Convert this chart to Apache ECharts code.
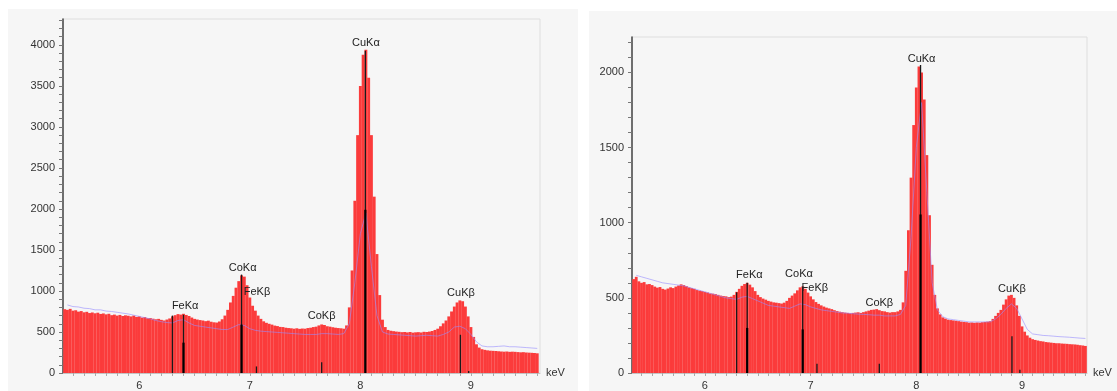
<!DOCTYPE html>
<html><head><meta charset="utf-8">
<script src="https://cdn.jsdelivr.net/npm/echarts@6/dist/echarts.min.js"></script>
<style>html,body{margin:0;padding:0;background:#fff}#c{width:1117px;height:391px}</style>
</head><body><div id="c"></div>
<script>
// ---- DATA ----
// Spectrum channels: energies from 5.325 keV, every 0.025 keV
const channelStart = 5.325, channelStep = 0.025;
const leftCounts = [
 778,770,782,760, 765,748,755,740, 746,731,738,728, 735,720,726,715, 722,705,712,700,
 708,695,703,698, 690,700,684,690, 676,682,668,670, 662,655,660,648, 640,652,665,690,
 705,718,712,722, 708,695,676,660, 652,645,640,632, 638,625,618,615, 628,655,700,770,
 860,940,1040,1120, 1190,1175,1070,920, 820,760,700,660, 630,612,600,590, 578,572,562,560,
 552,548,545,540, 545,538,542,540, 548,552,560,565, 580,592,585,570, 565,558,552,548,
 545,540,580,800, 1250,2100,2900,3500, 3880,3940,3600,2900, 2150,1450,950,650, 560,525,515,510,
 505,502,498,500, 495,500,492,496, 498,494,502,500, 505,512,525,540, 570,605,640,690,
 750,810,860,885, 875,810,690,560, 440,350,310,290, 282,276,272,270, 268,265,262,260,
 262,258,260,258, 255,252,254,250, 248,246,244,240
];
const rightCounts = [
 625,640,610,600, 605,590,592,585, 575,568,572,560, 555,562,570,565, 575,582,590,585,
 578,570,565,560, 552,548,545,540, 536,530,528,525, 520,515,512,510, 505,508,520,540,
 560,580,592,600, 588,570,545,520, 505,495,488,480, 475,470,468,465, 462,468,480,500,
 515,530,550,570, 576,560,535,510, 490,472,460,450, 442,435,430,425, 418,412,408,405,
 402,400,398,400, 402,404,400,405, 410,415,420,422, 425,418,412,410, 405,402,405,405,
 410,420,470,680, 950,1300,1650,1900, 2040,2000,1820,1450, 1050,720,520,430, 390,370,362,355,
 352,350,348,345, 342,340,338,335, 336,334,336,335, 338,340,342,345, 360,380,400,420,
 455,490,515,520, 500,450,380,310, 275,250,235,225, 220,216,212,210, 206,204,202,200,
 198,198,196,195, 194,192,191,190, 188,185,183,180
];
// Overlay (reference) spectrum: energies from 5.35 keV every 0.05 keV
const overlayStart = 5.35, overlayStep = 0.05;
const leftOverlay = [
 830,810, 805,790, 785,770, 770,755, 750,740, 730,720, 705,690, 675,660, 640,625, 615,610,
 640,650, 610,580, 570,560, 550,540, 530,530, 560,590, 580,540, 520,510, 505,500, 495,490,
 485,480, 475,470, 470,470, 480,480, 475,470, 480,600, 1100,1700, 1950,1300, 700,500, 475,470,
 465,460, 455,450, 455,460, 455,450, 470,500, 560,570, 540,470, 380,330, 320,320, 325,330,
 320,320, 315,310, 305,300
];
const rightOverlay = [
 650,640, 630,620, 610,600, 595,590, 585,580, 570,560, 550,540, 530,520, 510,500, 495,490,
 505,510, 495,480, 465,450, 445,440, 435,430, 445,460, 455,440, 430,420, 415,410, 405,400,
 398,395, 392,390, 388,385, 385,380, 380,380, 390,450, 900,1500, 1800,1200, 600,420, 375,360,
 355,350, 345,340, 340,340, 340,340, 360,390, 430,460, 430,360, 290,260, 255,250, 248,245,
 242,240, 238,235, 232,230
];
// Element line markers [keV, height]
const leftMarkers = [[6.30,700],[6.40,710],[6.925,1200],[7.06,80],[7.65,130],[8.045,3930],[8.905,466],[8.98,25]];
const leftMarkersBold = [[6.40,370],[6.925,590],[8.045,1990]];
const rightMarkers = [[6.30,537],[6.40,600],[6.925,575],[7.06,62],[7.65,62],[8.04,2050],[8.905,245],[8.98,22]];
const rightMarkersBold = [[6.40,300],[6.925,290],[8.04,1055]];
// Peak labels
const peakNames = ['FeKα','CoKα','FeKβ','CoKβ','CuKα','CuKβ'];
const leftLabelPos = [[6.415,820],[6.935,1285],[7.065,994],[7.65,690],[8.05,4027],[8.91,975]];
const rightLabelPos = [[6.42,655],[6.89,660],[7.04,565],[7.65,467],[8.05,2088],[8.905,560]];
// Tick labels
const xTickLabels = [6,7,8,9];
const leftYLabels = [0,500,1000,1500,2000,2500,3000,3500,4000];
const rightYLabels = [0,500,1000,1500,2000];

// ---- BUILD ----
function pairs(start, step, vals){ return vals.map((v,i)=>[+(start+i*step).toFixed(4), v]); }
function range(a,b,s){ const r=[]; for(let v=a; v<=b+1e-9; v+=s) r.push(+v.toFixed(4)); return r; }
const xMinor = range(5.4, 9.6, 0.1);
const FONT = 'Liberation Sans, Arial, sans-serif';

function xAxis(gi, max){
  return {gridIndex:gi, type:'value', min:5.31, max:max,
    axisLine:{show:true, lineStyle:{color:'#c4c4c4', width:1}},
    axisTick:{show:true, customValues:xMinor, length:3, lineStyle:{color:'#aaa'}},
    axisLabel:{customValues:xTickLabels, fontSize:11, color:'#333', margin:7, fontFamily:FONT,
      formatter:function(v){ return String(v); }},
    splitLine:{show:false},
    name:'keV', nameLocation:'end', nameGap:6,
    nameTextStyle:{fontSize:11, color:'#333', padding:[0,0,10,0], fontFamily:FONT}};
}
function yAxis(gi, max, labels){
  return {gridIndex:gi, type:'value', min:0, max:max,
    axisLine:{show:true, lineStyle:{color:'#444', width:1.5}},
    axisTick:{show:true, customValues:range(0, Math.floor(max/100)*100, 100), length:4, lineStyle:{color:'#777'}},
    axisLabel:{customValues:labels, fontSize:11, color:'#333', margin:8, fontFamily:FONT,
      formatter:function(v){ return String(v); }},
    splitLine:{show:false}};
}
function markerSeries(gi, data, width, color){
  return {type:'custom', xAxisIndex:gi, yAxisIndex:gi, z:5, silent:true, data:data,
    renderItem:function(params, api){
      const p0 = api.coord([api.value(0), 0]);
      const p1 = api.coord([api.value(0), api.value(1)]);
      return {type:'line', shape:{x1:p0[0], y1:p0[1], x2:p1[0], y2:p1[1]},
        style:{stroke:color, lineWidth:width}};
    }};
}
function labelSeries(gi, pos){
  return {type:'custom', xAxisIndex:gi, yAxisIndex:gi, z:6, silent:true,
    data: pos.map((p,i)=>({name:peakNames[i], value:p})),
    renderItem:function(params, api){
      const p = api.coord([api.value(0), api.value(1)]);
      return {type:'text', x:p[0], y:p[1], style:{text:peakNames[params.dataIndex], fill:'#222',
        font:'11px "Liberation Sans", Arial, sans-serif', align:'center', verticalAlign:'middle'}};
    }};
}
function spectrum(gi, vals, bw){
  return {type:'bar', xAxisIndex:gi, yAxisIndex:gi, data:pairs(channelStart, channelStep, vals),
    barWidth:bw, itemStyle:{color:'#fb3b3b'}, silent:true, animation:false, z:2};
}
function overlay(gi, vals){
  return {type:'line', xAxisIndex:gi, yAxisIndex:gi, data:pairs(overlayStart, overlayStep, vals),
    showSymbol:false, symbol:'none', lineStyle:{color:'rgba(150,140,255,0.6)', width:1}, silent:true, z:3};
}

const option = {
  animation:false,
  backgroundColor:'#ffffff',
  graphic:[
    {type:'rect', z:-10, shape:{x:8, y:9, width:570, height:390}, style:{fill:'#f6f6f6'}},
    {type:'rect', z:-10, shape:{x:589, y:11, width:528, height:390}, style:{fill:'#f6f6f6'}}
  ],
  grid:[
    {left:63, top:19, width:477, height:354.3, show:true, backgroundColor:'#f6f6f6', borderColor:'#dedede', borderWidth:1},
    {left:632, top:37, width:455, height:338.3, show:true, backgroundColor:'#f6f6f6', borderColor:'#dedede', borderWidth:1}
  ],
  xAxis:[xAxis(0, 9.625), xAxis(1, 9.615)],
  yAxis:[yAxis(0, 4316, leftYLabels), yAxis(1, 2236, rightYLabels)],
  series:[
    spectrum(0, leftCounts, 2.9),
    overlay(0, leftOverlay),
    markerSeries(0, leftMarkers, 1.3, '#1a1a1a'),
    markerSeries(0, leftMarkersBold, 2.2, '#000'),
    labelSeries(0, leftLabelPos),
    spectrum(1, rightCounts, 2.8),
    overlay(1, rightOverlay),
    markerSeries(1, rightMarkers, 1.3, '#1a1a1a'),
    markerSeries(1, rightMarkersBold, 2.2, '#000'),
    labelSeries(1, rightLabelPos)
  ]
};
const chart = echarts.init(document.getElementById('c'));
chart.setOption(option);
</script></body></html>
